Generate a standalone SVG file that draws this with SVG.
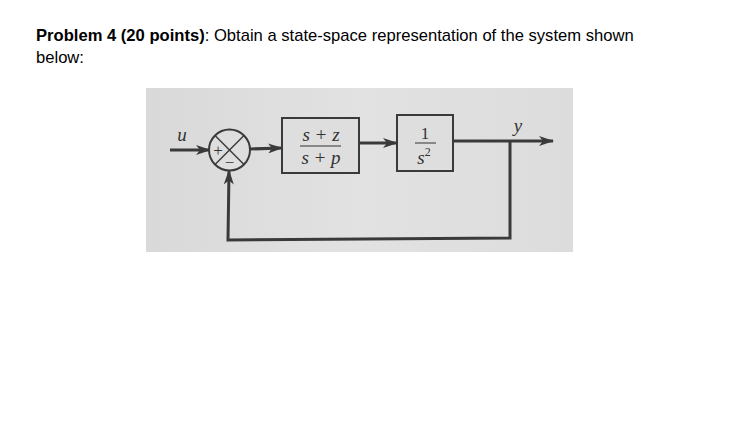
<svg xmlns="http://www.w3.org/2000/svg" width="733" height="441" viewBox="0 0 733 441">
<style>
.t{font-family:"Liberation Sans",Arial,sans-serif;font-size:16.6px;fill:#000}
.m{font-family:"Liberation Serif","DejaVu Serif",serif;font-style:italic;font-size:19px;fill:#333}
.n{font-family:"Liberation Serif","DejaVu Serif",serif;font-size:17px;fill:#333}
.ln{stroke:#3a3a3a;stroke-width:3;fill:none}
.bx{stroke:#3a3a3a;stroke-width:2;fill:#dedede}
</style>
<defs>
<marker id="ah" markerWidth="15" markerHeight="10" refX="14" refY="5" orient="auto" markerUnits="userSpaceOnUse">
<path d="M0,0 L15,5 L0,10 L4,5 Z" fill="#3a3a3a"/>
</marker>
<linearGradient id="bg" x1="0" y1="0" x2="1" y2="0">
<stop offset="0" stop-color="#d9d9d9"/>
<stop offset="0.5" stop-color="#e2e2e2"/>
<stop offset="1" stop-color="#dcdcdc"/>
</linearGradient>
</defs>
<rect width="733" height="441" fill="#fff"/>
<text class="t" x="36" y="41"><tspan font-weight="bold">Problem 4 (20 points)</tspan>: Obtain a state-space representation of the system shown</text>
<text class="t" x="36" y="63">below:</text>
<rect x="146" y="88" width="427" height="164" fill="url(#bg)"/>
<g id="connectors">
<line class="ln" x1="170" y1="150" x2="210" y2="150" marker-end="url(#ah)"/>
<line class="ln" x1="250" y1="149" x2="282" y2="148" marker-end="url(#ah)"/>
<line class="ln" x1="359" y1="143" x2="397" y2="143" marker-end="url(#ah)"/>
<line class="ln" x1="453" y1="141" x2="553" y2="141" marker-end="url(#ah)"/>
<polyline class="ln" points="510,141 510,238 228,240 229,170.5" marker-end="url(#ah)"/>
</g>
<g id="sum">
<circle cx="229.5" cy="150" r="20.5" fill="#dedede" stroke="#3a3a3a" stroke-width="2"/>
<line x1="215" y1="135.5" x2="244" y2="164.5" stroke="#3a3a3a" stroke-width="1.5"/>
<line x1="244" y1="135.5" x2="215" y2="164.5" stroke="#3a3a3a" stroke-width="1.5"/>
<text class="n" x="218" y="156" text-anchor="middle">+</text>
<text class="n" x="229.5" y="168" text-anchor="middle">−</text>
</g>
<g id="u"><text class="m" x="182" y="141" text-anchor="middle">u</text></g>
<g id="box1">
<rect class="bx" x="282" y="118" width="77" height="55"/>
<text class="m" x="321" y="141" text-anchor="middle">s + z</text>
<line x1="300" y1="146" x2="341" y2="146" stroke="#333" stroke-width="1"/>
<text class="m" x="321" y="164" text-anchor="middle">s + p</text>
</g>
<g id="box2">
<rect class="bx" x="397" y="115" width="56" height="56"/>
<text class="n" x="425" y="139" text-anchor="middle">1</text>
<line x1="415" y1="143" x2="436" y2="143" stroke="#333" stroke-width="1"/>
<text class="m" x="424" y="164" text-anchor="middle">s<tspan font-size="12" dy="-8" font-style="normal">2</tspan></text>
</g>
<g id="y"><text class="m" x="518" y="132" text-anchor="middle">y</text></g>
</svg>
